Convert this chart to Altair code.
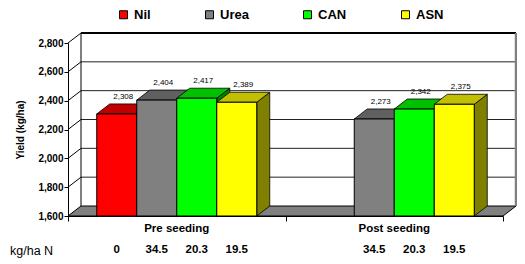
import altair as alt
import pandas as pd

# ---- data ----
groups = ["Pre seeding", "Post seeding"]
series = ["Nil", "Urea", "CAN", "ASN"]
pre_vals = [2308, 2404, 2417, 2389]
post_vals = [None, 2273, 2342, 2375]
pre_rates = ["0", "34.5", "20.3", "19.5"]
post_rates = [None, "34.5", "20.3", "19.5"]
y_ticks = [1600, 1800, 2000, 2200, 2400, 2600, 2800]

front_colors = ["#FF0000", "#808080", "#00FF00", "#FFFF00"]
top_colors = ["#C00000", "#606060", "#00C000", "#C0C000"]
side_colors = ["#800000", "#404040", "#008000", "#808000"]

# ---- layout constants ----
PLOT_W, PLOT_H = 435, 173
Y0, Y1 = 1600, 2800
DX = 13 / PLOT_W * 2          # depth in x data units
DY = 10 / PLOT_H * (Y1 - Y0)  # depth in y data units
BW = 40 / (PLOT_W / 2)        # bar width in category units
FONT = "Liberation Sans"

vals = [pre_vals, post_vals]
rates = [pre_rates, post_rates]

bars, tops, sides, rate_rows = [], [], [], []
for gi, g in enumerate(groups):
    for j, s in enumerate(series):
        v = vals[gi][j]
        left = gi + 0.5 - 2 * BW + j * BW
        right = left + BW
        if rates[gi][j] is not None:
            rate_rows.append({"xc": (left + right) / 2, "rate": rates[gi][j]})
        if v is None:
            continue
        bid = f"{gi}-{j}"
        bars.append({"id": bid, "series": s, "left": left, "right": right, "v": v,
                     "base": Y0, "lx": (left + right) / 2 + DX / 2, "ly": v + DY,
                     "label": f"{v:,}"})
        for (px, py, py2) in [(left, v, v), (left + DX, v + DY, v),
                              (right, v + DY, v), (right + DX, v + DY, v + DY)]:
            tops.append({"id": bid, "px": px, "py": py, "py2": py2, "c": top_colors[j]})
        for (py, px, px2) in [(Y0, right, right), (Y0 + DY, right, right + DX),
                              (v, right, right + DX), (v + DY, right + DX, right + DX)]:
            sides.append({"id": bid, "py": py, "px": px, "px2": px2, "c": side_colors[j]})

bars_df = pd.DataFrame(bars)
tops_df = pd.DataFrame(tops)
sides_df = pd.DataFrame(sides)
rates_df = pd.DataFrame(rate_rows)

xs = alt.Scale(domain=[0, 2], nice=False, zero=False)
ys = alt.Scale(domain=[Y0, Y1], nice=False, zero=False)

X_AX = alt.Axis(values=[0, 1, 2], labels=False, title=None, grid=False,
                domainColor="black", tickColor="black", tickSize=5)
Y_AX = alt.Axis(values=y_ticks, format=",d", grid=False, title="Yield (kg/ha)",
                domainColor="black", tickColor="black", tickSize=4,
                labelFont=FONT, labelFontSize=10, labelFontWeight="bold",
                labelColor="black", labelPadding=1,
                titleFont=FONT, titleFontSize=10, titleFontWeight="bold",
                titleColor="black", titleX=-48, titleY=PLOT_H / 2,
                titleAlign="center", titleBaseline="middle")


def X(f):
    return alt.X(f, scale=xs, axis=X_AX)


def Y(f):
    return alt.Y(f, scale=ys, axis=Y_AX)


# ---- walls and floor ----
wall_df = pd.DataFrame([{"px": DX, "px2": 2 + DX, "py": Y0 + DY, "py2": Y1 + DY}])
wall = alt.Chart(wall_df).mark_rect(fill="white").encode(
    x=X("px:Q"), x2="px2:Q", y=Y("py:Q"), y2="py2:Q")

floor_df = pd.DataFrame([
    {"px": 0, "py": Y0, "py2": Y0},
    {"px": DX, "py": Y0 + DY, "py2": Y0},
    {"px": 2, "py": Y0 + DY, "py2": Y0},
    {"px": 2 + DX, "py": Y0 + DY, "py2": Y0 + DY},
])
floor = alt.Chart(floor_df).mark_area(orient="vertical", fill="#808080", stroke="black",
                                      strokeWidth=1, opacity=1).encode(
    x=X("px:Q"), y=Y("py:Q"), y2="py2:Q")

grid_df = pd.DataFrame({"v": y_ticks[1:-1]})
grid_df["vy"] = grid_df["v"] + DY
grid_df["x1"] = DX
grid_df["x2"] = 2 + DX
grid = alt.Chart(grid_df).mark_rule(color="#222222", strokeWidth=1).encode(
    x=X("x1:Q"), x2="x2:Q", y=Y("vy:Q"))

diag_df = pd.DataFrame({"v": y_ticks[1:]})
diag_df["vy"] = diag_df["v"] + DY
diag_df["x1"] = 0
diag_df["x2"] = DX
diag = alt.Chart(diag_df).mark_rule(color="black", strokeWidth=1).encode(
    x=X("x1:Q"), x2="x2:Q", y=Y("v:Q"), y2="vy:Q")

top_edge_df = pd.DataFrame([{"x1": DX, "x2": 2 + DX, "vy": Y1 + DY}])
top_edge = alt.Chart(top_edge_df).mark_rule(color="black", strokeWidth=2).encode(
    x=X("x1:Q"), x2="x2:Q", y=Y("vy:Q"))

left_edge_df = pd.DataFrame([{"px": DX, "py": Y0 + DY, "py2": Y1 + DY}])
left_edge = alt.Chart(left_edge_df).mark_rule(color="black", strokeWidth=1).encode(
    x=X("px:Q"), y=Y("py:Q"), y2="py2:Q")

right_edge_df = pd.DataFrame([{"px": 2 + DX, "py": Y0 + DY, "py2": Y1 + DY}])
right_edge = alt.Chart(right_edge_df).mark_rule(color="#808080", strokeWidth=2.5).encode(
    x=X("px:Q"), y=Y("py:Q"), y2="py2:Q")

# ---- bars ----
side_layer = alt.Chart(sides_df).mark_area(orient="horizontal", stroke="black",
                                           strokeWidth=0.8, opacity=1).encode(
    y=Y("py:Q"), x=X("px:Q"), x2="px2:Q",
    detail="id:N",
    fill=alt.Fill("c:N", scale=None))

top_layer = alt.Chart(tops_df).mark_area(orient="vertical", stroke="black",
                                         strokeWidth=0.8, opacity=1).encode(
    x=X("px:Q"), y=Y("py:Q"), y2="py2:Q",
    detail="id:N",
    fill=alt.Fill("c:N", scale=None))

front = alt.Chart(bars_df).mark_rect(stroke="black", strokeWidth=1, opacity=1).encode(
    x=X("left:Q"), x2="right:Q",
    y=Y("v:Q"), y2="base:Q",
    color=alt.Color("series:N", scale=alt.Scale(domain=series, range=front_colors),
                    legend=alt.Legend(orient="none", legendX=49, legendY=-35,
                                      direction="horizontal", title=None,
                                      symbolType="square", symbolSize=64,
                                      symbolStrokeColor="black", symbolStrokeWidth=1,
                                      labelFont=FONT, labelFontSize=13,
                                      labelFontWeight="bold", labelColor="black",
                                      columnPadding=52, labelOffset=4, padding=0,
                                      labelLimit=200)))

labels = alt.Chart(bars_df).mark_text(font=FONT, fontSize=8, color="black",
                                      baseline="bottom", dy=-3).encode(
    x=X("lx:Q"), y=Y("ly:Q"), text="label:N")

cat_df = pd.DataFrame({"g": groups, "xc": [0.5, 1.5]})
cats = alt.Chart(cat_df).mark_text(font=FONT, fontSize=11.5, fontWeight="bold",
                                   color="black", baseline="middle").encode(
    x=X("xc:Q"), y=alt.value(186), text="g:N")

rate_text = alt.Chart(rates_df).mark_text(font=FONT, fontSize=11.5, fontWeight="bold",
                                          color="black", baseline="middle").encode(
    x=X("xc:Q"), y=alt.value(207), text="rate:N")

unit_df = pd.DataFrame({"t": ["kg/ha N"]})
unit = alt.Chart(unit_df).mark_text(font=FONT, fontSize=12.5, color="black",
                                    baseline="middle", align="left").encode(
    x=alt.value(-58), y=alt.value(208), text="t:N")

chart = alt.layer(wall, floor, grid, diag, top_edge, left_edge, right_edge,
                  side_layer, top_layer, front, labels, cats, rate_text, unit).properties(
    width=PLOT_W, height=PLOT_H,
    autosize=alt.AutoSizeParams(type="none"),
    padding={"left": 60, "top": 35, "right": 14, "bottom": 48},
).configure_view(stroke=None).configure_axis(domainWidth=1)

chart.save("out.html", embed_options={"renderer": "svg", "actions": False})
